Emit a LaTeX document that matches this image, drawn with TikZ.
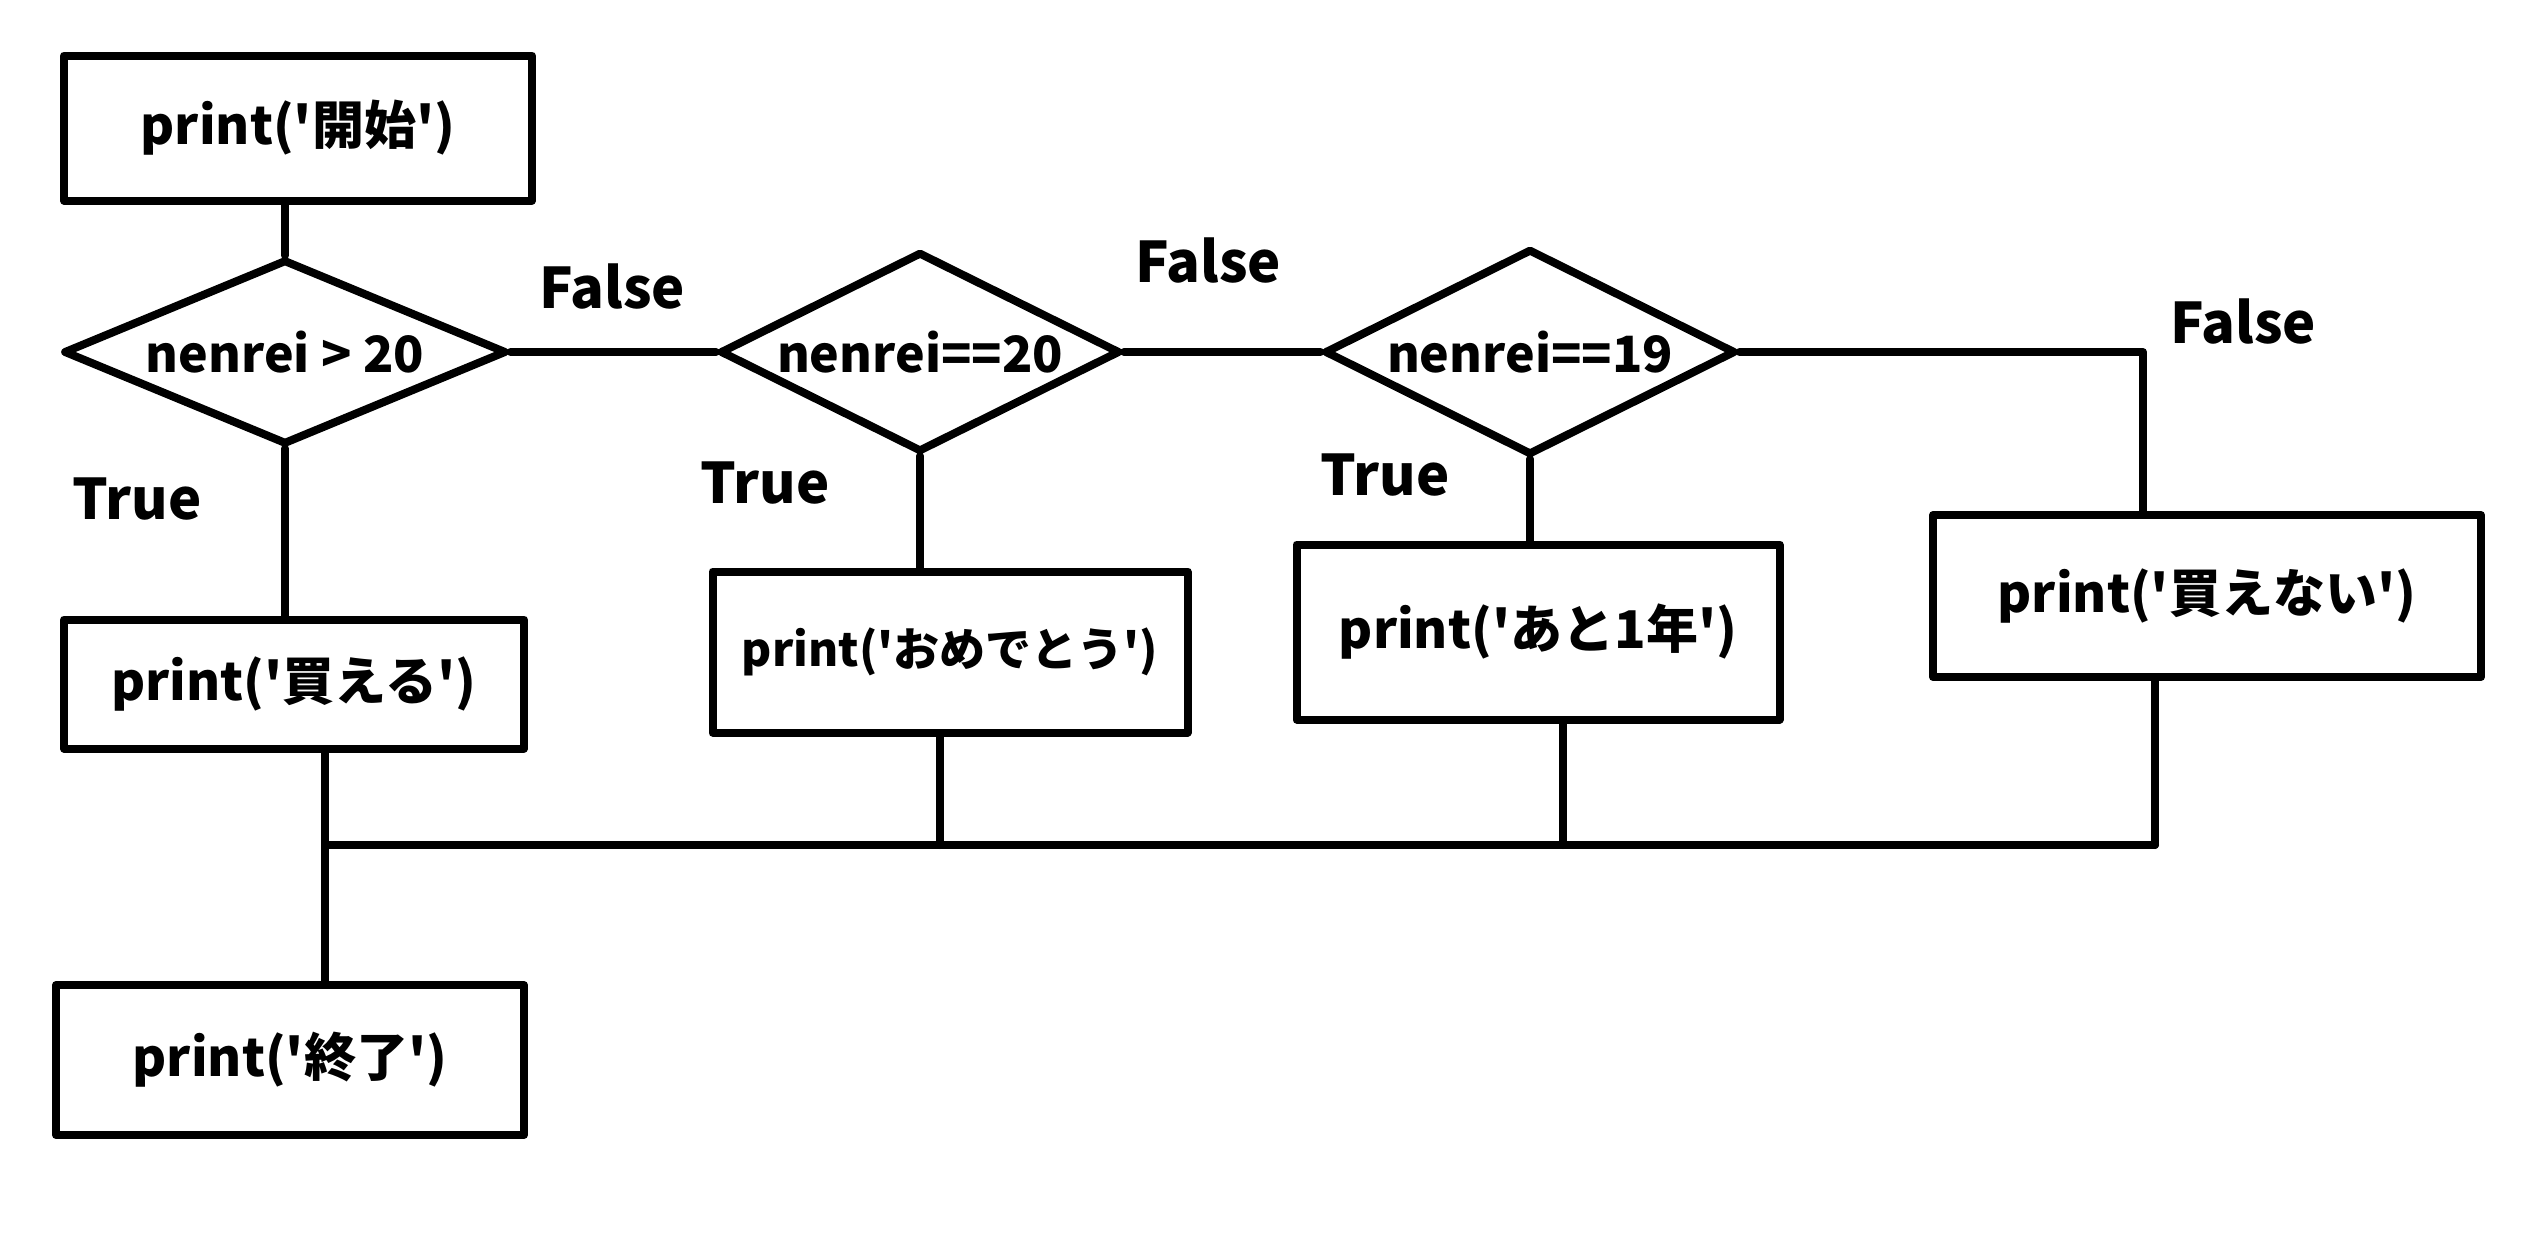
\documentclass[tikz,border=0pt]{standalone}
\usepackage{fontspec}
\setmainfont{Noto Sans CJK JP}
\usetikzlibrary{shapes.geometric}
\newcommand{\myq}{\textquotesingle}
\begin{document}
\begin{tikzpicture}[x=1pt,y=-1pt,
  line width=8pt, line cap=round, line join=round,
  box/.style={draw, rectangle, inner sep=0pt, font=\fontsize{52}{60}\selectfont\bfseries},
  dia/.style={draw, diamond, inner sep=0pt},
  dtxt/.style={font=\fontsize{50}{60}\selectfont\bfseries, inner sep=0pt},
  lbl/.style={font=\fontsize{56}{64}\selectfont\bfseries, inner sep=0pt}]
\useasboundingbox (0,0) rectangle (2526,1242);
% process boxes
\node[box, minimum width=468pt, minimum height=145pt] (start) at (298,128) {print(\myq 開始\myq)};
\node[box, minimum width=460pt, minimum height=129pt] (buy) at (294,684) {print(\myq 買える\myq)};
\node[box, minimum width=468pt, minimum height=150pt] (end) at (290,1060) {print(\myq 終了\myq)};
\node[box, minimum width=475pt, minimum height=161pt, font=\fontsize{46}{56}\selectfont\bfseries] (cong) at (950,652) {print(\myq おめでとう\myq)};
\node[box, minimum width=483pt, minimum height=175pt] (year) at (1538,632) {print(\myq あと1年\myq)};
\node[box, minimum width=548pt, minimum height=162pt] (nobuy) at (2207,596) {print(\myq 買えない\myq)};
% decisions
\node[dia, minimum width=443pt, minimum height=185pt] (d1) at (285,352) {};
\node[dtxt] (t1) at (d1) {nenrei > 20};
\node[dia, minimum width=400pt, minimum height=200pt] (d2) at (920,352) {};
\node[dtxt] (t2) at (d2) {nenrei==20};
\node[dia, minimum width=411pt, minimum height=206pt] (d3) at (1530,352) {};
\node[dtxt] (t3) at (d3) {nenrei==19};
% labels
\node[lbl] (f1) at (612,287) {False};
\node[lbl] (f2) at (1208,261) {False};
\node[lbl] (f3) at (2243,322) {False};
\node[lbl] (tr1) at (137,499) {True};
\node[lbl] (tr2) at (765,483) {True};
\node[lbl] (tr3) at (1385,475) {True};
% connector coordinates
\coordinate (c3) at (2143,352);
\coordinate (j) at (325,845);
\coordinate (x2) at (940,845);
\coordinate (x3) at (1563,845);
\coordinate (x4) at (2155,845);
% connectors
\draw (start.south -| d1.north) -- (d1.north);
\draw (d1.south) -- (d1.south |- buy.north);
\draw (d1.east) -- (d2.west);
\draw (d2.east) -- (d3.west);
\draw (d2.south) -- (d2.south |- cong.north);
\draw (d3.south) -- (d3.south |- year.north);
\draw (d3.east) -- (c3) -- (c3 |- nobuy.north);
\draw (buy.south -| j) -- (end.north -| j);
\draw (j) -- (x4);
\draw (cong.south -| x2) -- (x2);
\draw (year.south -| x3) -- (x3);
\draw (nobuy.south -| x4) -- (x4);
\end{tikzpicture}
\end{document}
